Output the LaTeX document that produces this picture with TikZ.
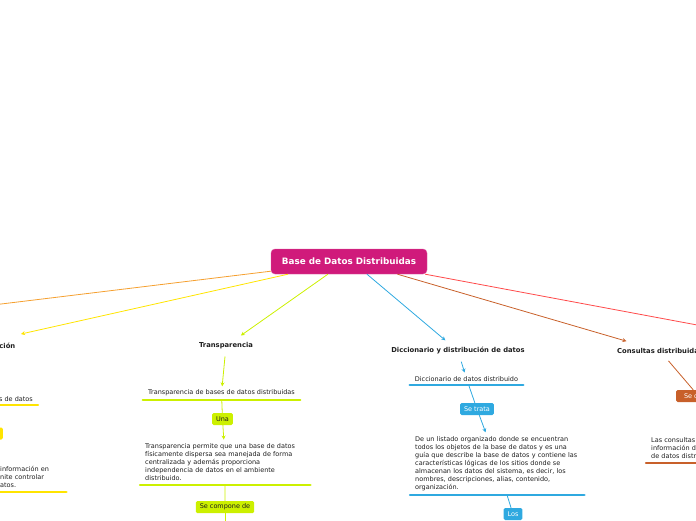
\documentclass[tikz,border=0pt]{standalone}
\usepackage{fontspec}
\setmainfont{DejaVu Sans}
\usetikzlibrary{arrows.meta, positioning, calc}
\definecolor{RootColor}{HTML}{D01A7B}
\definecolor{OrangeColor}{HTML}{F5A030}
\definecolor{YellowColor}{HTML}{FFE400}
\definecolor{LimeColor}{HTML}{CCF000}
\definecolor{BlueColor}{HTML}{2FA9E0}
\definecolor{BrownColor}{HTML}{C8602A}
\definecolor{RedColor}{HTML}{FF4A4A}
\definecolor{TextDark}{HTML}{1E1E1E}

\begin{document}
\begin{tikzpicture}[
        x=1pt, y=-1pt,
        rootbox/.style={rectangle, rounded corners=4pt, fill=RootColor, draw=RootColor!75!white, minimum width=156pt, minimum height=25pt, text=white, font=\fontsize{8.8}{10}\selectfont\bfseries},
        topic/.style={inner xsep=4pt, inner ysep=7pt, font=\fontsize{6.8}{8}\selectfont\bfseries, text=TextDark},
        subnode/.style={inner xsep=5pt, inner ysep=3.5pt, font=\fontsize{6.5}{8}\selectfont, text=TextDark},
        bodytext/.style={subnode, inner ysep=4pt, align=left},
        tagbox/.style={rectangle, rounded corners=1.5pt, minimum height=12pt, inner xsep=4pt, inner ysep=0pt, font=\fontsize{6.5}{8}\selectfont, text=TextDark},
        connector/.style={line width=0.8pt},
        arrow/.style={connector, -{Stealth[length=4pt, width=4pt]}},
        underbar/.style={line width=2.5pt, line cap=round}
      ]
        \useasboundingbox (0,0) rectangle (696,520);
        \clip (0,0) rectangle (696,520);

        % Nodes
        \node[rootbox] (root) at (349,261.5) {Base de Datos Distribuidas};

        \node[topic, anchor=east] (ytopic) at (19.5,346) {ción};
        \coordinate (ytip) at ($(ytopic.east)+(1.5,-12)$);
        \node[subnode, anchor=south east] (ysub) at (38,405) {s de datos};
        \node[tagbox, fill=YellowColor, minimum width=20pt, anchor=east] (ytag) at (3,433.5) {};
        \node[bodytext, text width=61pt, anchor=south west] (ybody) at (-5,492) {información en\\nite controlar\\atos.};

        \node[topic] (ttopic) at (226,346) {Transparencia};
        \node[subnode, minimum width=157pt, anchor=south] (tsub) at (221.5,400) {Transparencia de bases de datos distribuidas};
        \node[tagbox, fill=LimeColor] (tuna) at (222.5,419) {Una};
        \node[bodytext, text width=160pt, anchor=south west] (tbody) at (140,485) {Transparencia permite que una base de datos\\físicamente dispersa sea manejada de forma\\centralizada y además proporciona\\independencia de datos en el ambiente\\distribuido.};
        \node[tagbox, fill=LimeColor] (tcomp) at (225,507) {Se compone de};
        \coordinate (tnext) at (225,540);

        \node[topic] (dtopic) at (458,351) {Diccionario y distribución de datos};
        \node[subnode, minimum width=113pt, anchor=south] (dsub) at (466.5,385) {Diccionario de datos distribuido};
        \node[tagbox, fill=BlueColor, text=white] (dtrata) at (477,409) {Se trata};
        \node[bodytext, text width=164pt, anchor=south west] (dbody) at (410,495) {De un listado organizado donde se encuentran\\todos los objetos de la base de datos y es una\\guía que describe la base de datos y contiene las\\características lógicas de los sitios donde se\\almacenan los datos del sistema, es decir, los\\nombres, descripciones, alias, contenido,\\organización.};
        \node[tagbox, fill=BlueColor, text=white] (dlos) at (513,514) {Los};

        \node[topic, anchor=west] (ctopic) at (613,351) {Consultas distribuidas};
        \node[tagbox, fill=BrownColor, text=white, minimum width=34pt, anchor=west] (cdef) at (676,396) {Se de};
        \node[bodytext, text width=100pt, anchor=south west] (cbody) at (646,463) {Las consultas\\información d\\de datos distr};

        \coordinate (oend) at (-40,309);
        \coordinate (rend) at (740,333);

        % Underlines
        \draw[underbar, YellowColor] (ysub.south west) -- (ysub.south east);
        \draw[underbar, YellowColor] (ybody.south west) -- (ybody.south east);
        \draw[underbar, LimeColor] (tsub.south west) -- (tsub.south east);
        \draw[underbar, LimeColor] (tbody.south west) -- (tbody.south east);
        \draw[underbar, BlueColor] (dsub.south west) -- (dsub.south east);
        \draw[underbar, BlueColor] (dbody.south west) -- (dbody.south east);
        \draw[underbar, BrownColor] (cbody.south west) -- (cbody.south east);

        % Connections
        \draw[connector, OrangeColor] ($(root.south west)+(0,-3)$) -- (oend);
        \draw[arrow, YellowColor] ($(root.south west)!0.11!(root.south east)$) -- (ytip);
        \draw[arrow, LimeColor] ($(root.south west)!0.365!(root.south east)$) -- (ttopic);
        \draw[arrow, BlueColor] ($(root.south west)!0.615!(root.south east)$) -- (dtopic);
        \draw[arrow, BrownColor] ($(root.south west)!0.81!(root.south east)$) -- (ctopic);
        \draw[connector, RedColor] ($(root.south east)+(-2,0)$) -- (rend);

        \draw[arrow, LimeColor] (ttopic) -- (tsub);
        \draw[connector, LimeColor] (tsub) -- (tuna);
        \draw[arrow, LimeColor] (tuna) -- (tbody);
        \draw[connector, LimeColor] (tbody) -- (tcomp);
        \draw[connector, LimeColor] (tcomp) -- (tnext);

        \draw[arrow, BlueColor] (dtopic) -- (dsub);
        \draw[connector, BlueColor] (dsub) -- (dtrata);
        \draw[arrow, BlueColor] (dtrata) -- (dbody);
        \draw[connector, BlueColor] (dbody) -- (dlos);

        \draw[connector, BrownColor] (ctopic) -- (cdef.north);
      \end{tikzpicture}
\end{document}
